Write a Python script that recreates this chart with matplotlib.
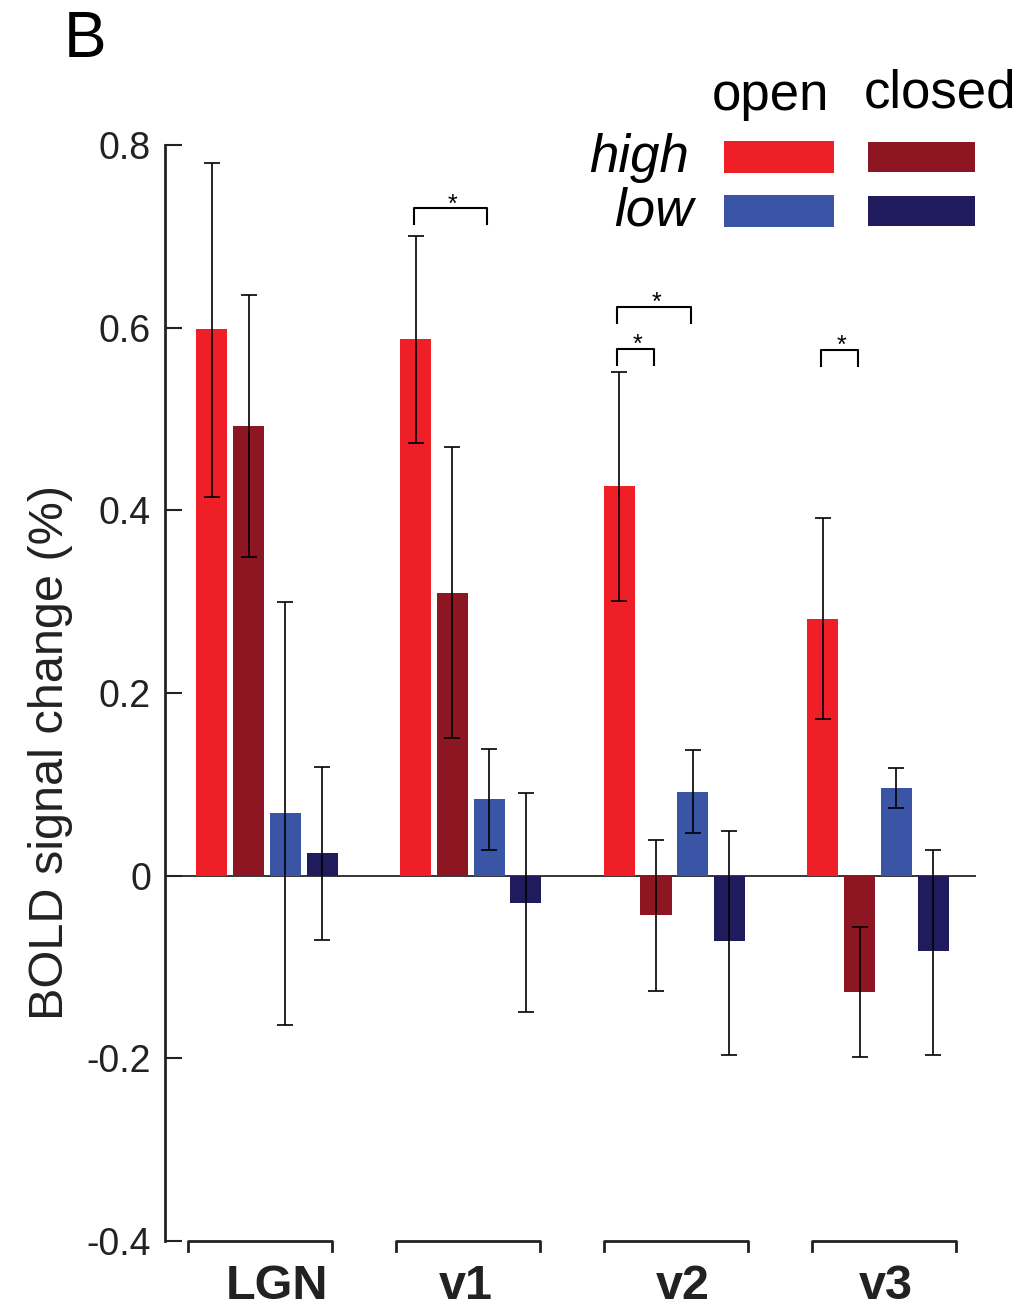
import matplotlib
matplotlib.use('Agg')
import matplotlib.pyplot as plt
from matplotlib.patches import Rectangle
import numpy as np

plt.rcParams['font.family'] = ['Liberation Sans', 'DejaVu Sans']

# data
regions = ['LGN', 'v1', 'v2', 'v3']
conditions = ['high open', 'high closed', 'low open', 'low closed']
colors = ['#EE1F26', '#8C1722', '#3A55A5', '#201B5C']

means = np.array([
    [0.598, 0.492, 0.069, 0.025],
    [0.588, 0.310, 0.084, -0.030],
    [0.427, -0.043, 0.092, -0.072],
    [0.281, -0.127, 0.096, -0.083],
])
err_hi = np.array([
    [0.780, 0.636, 0.300, 0.119],
    [0.700, 0.469, 0.139, 0.090],
    [0.552, 0.039, 0.138, 0.049],
    [0.392, -0.056, 0.118, 0.028],
])
err_lo = np.array([
    [0.415, 0.349, -0.164, -0.070],
    [0.474, 0.151, 0.028, -0.149],
    [0.301, -0.126, 0.047, -0.196],
    [0.172, -0.199, 0.074, -0.196],
])

# significance: (region index, bar a, bar b, bracket height)
sig = [(1, 0, 2, 0.731), (2, 0, 2, 0.623), (2, 0, 1, 0.577), (3, 0, 1, 0.576)]

W, H = 1020, 1315
fig = plt.figure(figsize=(W / 100, H / 100), dpi=100)
ax = fig.add_axes([165 / W, 1 - 1241 / H, (976 - 165) / W, (1241 - 145) / H])

gap = 5.55
offsets = np.array([-1.5, -0.5, 0.5, 1.5])
centers = np.arange(len(regions)) * gap

for j in range(len(conditions)):
    x = centers + offsets[j]
    ax.bar(x, means[:, j], width=0.845, color=colors[j], zorder=2)
    ax.errorbar(x, means[:, j],
                yerr=[means[:, j] - err_lo[:, j], err_hi[:, j] - means[:, j]],
                fmt='none', ecolor='black', elinewidth=1.2, capsize=5.5,
                capthick=1.2, zorder=3)

ax.axhline(0, color='black', lw=1.1, zorder=1)

leg = 0.0175
for g, a, b, h in sig:
    xa, xb = centers[g] + offsets[a] - 0.05, centers[g] + offsets[b] - 0.05
    ax.plot([xa, xa, xb, xb], [h - leg, h, h, h - leg], color='black', lw=1.5)
    ax.text((xa + xb) / 2 + 0.05, h - 0.004, '*', ha='center', va='baseline', fontsize=18)

ax.set_xlim(-2.78, 19.32)
ax.set_ylim(-0.4, 0.8)
ax.set_yticks([-0.4, -0.2, 0, 0.2, 0.4, 0.6, 0.8])
ax.set_yticklabels(['-0.4', '-0.2', '0', '0.2', '0.4', '0.6', '0.8'])
ax.tick_params(axis='y', direction='in', length=12, width=1.5, labelsize=27,
               labelcolor='#222222', color='#222222', pad=10)
ax.set_xticks([])
for s in ['top', 'right', 'bottom']:
    ax.spines[s].set_visible(False)
ax.spines['left'].set_linewidth(2)
ax.spines['left'].set_color('#222222')
ax.set_ylabel('BOLD signal change (%)', fontsize=35, color='#222222')
ax.yaxis.set_label_coords(-0.113, 0.446)

# group brackets under the axis (spaced slightly wider than the bar groups)
label_shift = [0.27, -0.12, 0.22, 0.22]
for i, (c, name) in enumerate(zip(centers, regions)):
    bc = c - 0.19 + i * 0.12
    ax.plot([bc - 1.96, bc - 1.96, bc + 1.96, bc + 1.96], [-0.411, -0.4, -0.4, -0.411],
            color='#222222', lw=2, clip_on=False)
    ax.text(c + label_shift[i], -0.425, name, ha='center', va='top', fontsize=35,
            fontweight='bold', color='#222222')

# legend
def fx(px):
    return px / W

def fy(py):
    return 1 - py / H

fig.text(fx(770), fy(110), 'open', ha='center', va='baseline', fontsize=38)
fig.text(fx(940), fy(107), 'closed', ha='center', va='baseline', fontsize=38)
fig.text(fx(689), fy(172), 'high', ha='right', va='baseline', fontsize=38, style='italic')
fig.text(fx(693), fy(225), 'low', ha='right', va='baseline', fontsize=38, style='italic')
boxes = [(724, 141, 834, 173), (868, 142, 975, 172), (724, 195, 834, 227), (868, 196, 975, 226)]
for (x0, y0, x1, y1), col in zip(boxes, colors):
    fig.add_artist(Rectangle((fx(x0), fy(y1)), fx(x1) - fx(x0), fy(y0) - fy(y1),
                             transform=fig.transFigure, color=col, lw=0))

fig.text(fx(64), fy(57), 'B', ha='left', va='baseline', fontsize=46)

fig.savefig('out.png', dpi=100)
